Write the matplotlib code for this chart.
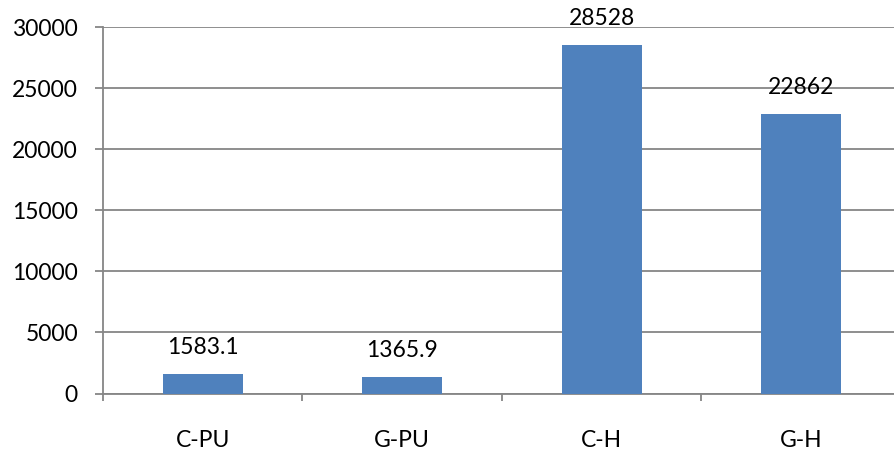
import matplotlib.pyplot as plt
import numpy as np

categories = ['C-PU', 'G-PU', 'C-H', 'G-H']
values = [1583.1, 1365.9, 28528, 22862]
value_labels = ['1583.1', '1365.9', '28528', '22862']

plt.rcParams['font.family'] = ['Lato', 'DejaVu Sans']
grid_color = '#868686'
bar_color = '#4F81BD'

fig = plt.figure(figsize=(8.95, 4.53), dpi=100)
ax = fig.add_axes([103 / 895, 59.5 / 453, 798 / 895, 366.5 / 453])

x = np.arange(len(categories))
bars = ax.bar(x, values, width=0.4, color=bar_color, zorder=3)

for rect, lab in zip(bars, value_labels):
    ax.annotate(lab, (rect.get_x() + rect.get_width() / 2, rect.get_height()),
                xytext=(0, 14.4), textcoords='offset points',
                ha='center', va='baseline', fontsize=16.5,
                annotation_clip=False, clip_on=False)

ax.set_xlim(-0.5, len(categories) - 0.5)
ax.set_ylim(0, 30000)
ax.set_yticks(np.arange(0, 30001, 5000))
ax.yaxis.grid(True, color=grid_color, linewidth=1.3, zorder=0)

# category labels at centres, tick marks at the boundaries
ax.set_xticks(x)
ax.set_xticklabels(categories, fontsize=16.5)
ax.set_xticks(np.arange(-0.5, len(categories)), minor=True)
ax.tick_params(axis='x', which='major', length=0, pad=26)
ax.tick_params(axis='x', which='minor', length=5, width=1.3, color=grid_color)
ax.tick_params(axis='y', length=6, width=1.3, color=grid_color, pad=12,
               labelsize=16.5)

for side in ('top', 'right'):
    ax.spines[side].set_visible(False)
for side in ('left', 'bottom'):
    ax.spines[side].set_color(grid_color)
    ax.spines[side].set_linewidth(1.3)

fig.savefig('out.png', dpi=100)
